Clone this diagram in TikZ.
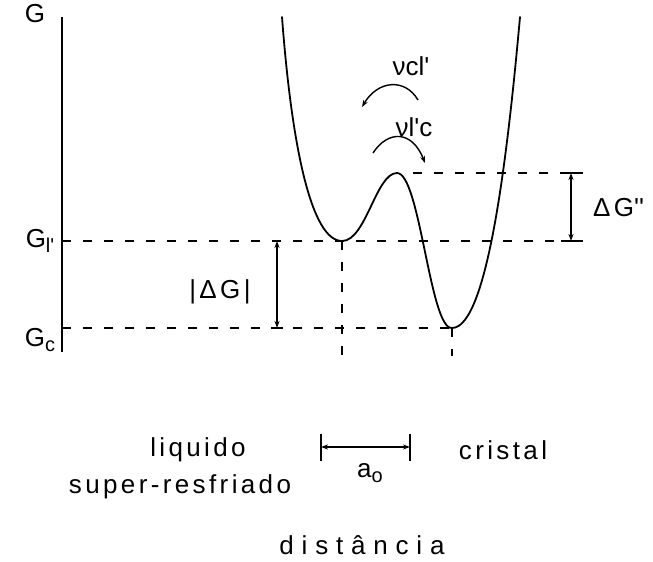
\documentclass[tikz,border=0pt]{standalone}
\usepackage{fontspec}
\setmainfont{Liberation Sans}[LetterSpace=13]
\usetikzlibrary{positioning,arrows.meta,calc}

% lowered index after a letter (G_l', G_c)
\newcommand{\lowidx}[1]{\raisebox{-5pt}{\fontsize{20}{20}\selectfont #1}}
\newcommand{\pr}{\textquotesingle}

\begin{document}
\begin{tikzpicture}[
  x=1pt, y=-1pt,
  font=\fontsize{26}{30}\selectfont,
  axis/.style={line width=1.6pt},
  curve/.style={line width=1.8pt, line cap=round, line join=round},
  guide/.style={line width=1.2pt, dash pattern=on 9pt off 12pt},
  dim/.style={line width=1.2pt, {Stealth[length=7pt,width=5pt]}-{Stealth[length=7pt,width=5pt]}},
  bar/.style={line width=1.2pt},
  hop/.style={line width=1.4pt},
  lbl/.style={inner sep=0pt}
]
\useasboundingbox (0,0) rectangle (653,562);

% Levels (y) and positions (x), in pixels of the reference
\def\xAx{62}
\def\yTop{17}
\def\yBot{352}
\def\yL{241}
\def\yC{328}
\def\yM{173}
\def\xL{342}
\def\xC{452}

% G axis
\coordinate (axtop) at (\xAx,\yTop);
\coordinate (axbot) at (\xAx,\yBot);
\draw[axis] (axtop) -- (axbot);
\node[lbl] (g) at (35,14) {G};
\node[lbl] (gl) at (40,\yL) {G\lowidx{l\pr}};
\node[lbl] (gc) at (40,\yC+12) {G\lowidx{c}};

% points on the free-energy curve
\coordinate (c0) at (282,\yTop);
\coordinate (lmin) at (\xL,\yL);
\coordinate (peak) at (397,\yM);
\coordinate (cmin) at (\xC,\yC);
\coordinate (c4) at (520,\yTop);

% guide lines
\coordinate (l0) at (\xAx,\yL);
\coordinate (l1) at (583,\yL);
\coordinate (k0) at (\xAx,\yC);
\coordinate (m0) at (413,\yM);
\coordinate (m1) at (583,\yM);
\coordinate (lb) at (\xL,356);
\coordinate (cb) at (\xC,356);
\draw[guide] (l0) -- (l1);
\draw[guide] (k0) -- (cmin);
\draw[guide] (m0) -- (m1);
\draw[guide] (lmin) -- (lb);
\draw[guide] (cmin) -- (cb);

% the curve
\draw[curve] (c0) .. controls (292,150) and (312,\yL) .. (lmin)
  .. controls (366,\yL) and (376,\yM) .. (peak)
  .. controls (420,\yM) and (430,330) .. (cmin)
  .. controls (488,328) and (508,150) .. (c4);

% Delta G''
\coordinate (dt) at (571,\yM);
\coordinate (db) at (571,\yL);
\draw[bar] (561,\yM) -- (583,\yM);
\draw[bar] (561,\yL) -- (583,\yL);
\draw[dim] (dt) -- (db);
\node[lbl, anchor=west] (dg2) at (593,208) {ΔG\pr\pr};

% |Delta G|
\coordinate (at) at (277,\yL);
\coordinate (ab) at (277,\yC);
\draw[bar] (271,\yC) -- (283,\yC);
\draw[dim] (at) -- (ab);
\node[lbl] (dg) at (220,292) {|ΔG|};

% jump frequencies
\node[lbl] (nucl) at (411,66) {ν\addfontfeature{LetterSpace=0}cl\pr};
\node[lbl] (nulc) at (414,127) {ν\addfontfeature{LetterSpace=0}l\pr c};
\coordinate (h1a) at (362,107);
\coordinate (h1b) at (418,100);
\coordinate (h2a) at (373,153);
\coordinate (h2b) at (425,163);
\draw[hop, {Stealth[length=7pt,width=5pt]}-] (h1a) .. controls (378,80) and (405,78) .. (h1b);
\draw[hop, -{Stealth[length=7pt,width=5pt]}] (h2a) .. controls (388,130) and (412,130) .. (h2b);

% scale a_o
\coordinate (s0) at (321,447);
\coordinate (s1) at (410,447);
\draw[bar] (321,434) -- (321,461);
\draw[bar] (410,434) -- (410,461);
\draw[dim] (s0) -- (s1);
\node[lbl] (ao) at (370,473) {a\lowidx{o}};

% labels below
\node[lbl] (liq) at (198,450) {liquido};
\node[lbl] (sup) at (180,487) {super-resfriado};
\node[lbl] (cri) at (503,450) {cristal};
\node[lbl] (dist) at (362,545) {\addfontfeature{LetterSpace=30}distância};

\end{tikzpicture}
\end{document}
